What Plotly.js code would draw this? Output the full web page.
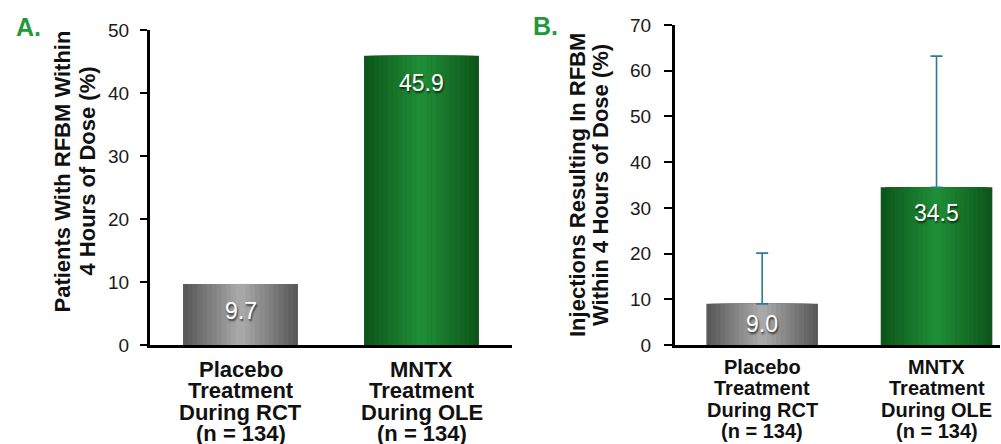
<!DOCTYPE html>
<html>
<head>
<meta charset="utf-8">
<script src="https://cdn.plot.ly/plotly-3.0.1.min.js"></script>
<style>
  html, body { margin: 0; padding: 0; background: #fff; }
  #chart { width: 1001px; height: 444px; }
</style>
</head>
<body>
<div id="chart"></div>
<script>
// ---- Data ----
const categoryLines = [
  ["Placebo", "Treatment", "During RCT", "(n = 134)"],
  ["MNTX", "Treatment", "During OLE", "(n = 134)"]
];
const categories = categoryLines.map(l => l.join(" "));
const patientsPct = [9.7, 45.9];          // Panel A
const injectionsPct = [9.0, 34.5];        // Panel B
const injectionsErrPlus = [11.1, 28.7];   // Panel B upper error
const valueLabelsA = ["9.7", "45.9"];
const valueLabelsB = ["9.0", "34.5"];
const yTicksA = [0, 10, 20, 30, 40, 50];
const yTicksB = [0, 10, 20, 30, 40, 50, 60, 70];
const yTitleA = ["Patients With RFBM Within", "4 Hours of Dose (%)"];
const yTitleB = ["Injections Resulting In RFBM", "Within 4 Hours of Dose (%)"];
const panelLabels = ["A.", "B."];

// ---- Helpers ----
const W = 1001, H = 444;
const px = x => x / W;
const py = y => 1 - y / H;
function hex2rgb(h) { h = h.replace('#',''); return [0,2,4].map(i => parseInt(h.substr(i,2),16)); }
function lerp(a, b, t) {
  const A = hex2rgb(a), B = hex2rgb(b);
  return 'rgb(' + A.map((v,i) => Math.round(v + (B[i]-v)*t)).join(',') + ')';
}
const barStyles = [
  { edge: '#595959', center: '#a8a8a8' },
  { edge: '#0d561b', center: '#1f8d35' }
];
const N = 12;
const traces = [];
function gradientBars(xa, ya, values, width, errPlus) {
  values.forEach((v, k) => {
    for (let i = 0; i < N; i++) {
      const t = i / (N - 1);
      const tr = {
        type: 'bar', x: [categories[k]], y: [v], xaxis: xa, yaxis: ya,
        width: width * (1 - i / N),
        marker: { color: lerp(barStyles[k].edge, barStyles[k].center, t), line: { width: 0 } },
        hoverinfo: 'skip', showlegend: false
      };
      if (errPlus && i === N - 1) {
        tr.error_y = { type: 'data', symmetric: false, array: [errPlus[k]], arrayminus: [0],
                       color: '#2b7b99', thickness: 1.6, width: 6 };
      }
      traces.push(tr);
    }
  });
}
gradientBars('x', 'y', patientsPct, 0.635, null);
gradientBars('x2', 'y2', injectionsPct, 0.64, injectionsErrPlus);

const tickFont = { family: 'Liberation Sans, Arial, sans-serif', size: 19, color: '#1a1a1a' };
const baseY = {
  showline: true, linewidth: 3, linecolor: '#000', showgrid: false, zeroline: false,
  ticks: 'outside', ticklen: 7, tickwidth: 2, tickcolor: '#000', tickfont: tickFont,
  ticklabelstandoff: 7, fixedrange: true
};
const baseX = {
  type: 'category', showline: true, linewidth: 3, linecolor: '#000', showgrid: false,
  zeroline: false, ticks: '', showticklabels: false, fixedrange: true
};

const annotations = [];
const boldFont = (s, c) => ({ family: 'Liberation Sans, Arial, sans-serif', size: s, color: c || '#111', weight: 'bold' });

// Category labels
function catLabels(xa, startY, step, size) {
  categoryLines.forEach((lines, k) => {
    lines.forEach((ln, j) => {
      annotations.push({ xref: xa, yref: 'paper', x: categories[k], y: py(startY + j * step),
        text: '<b>' + ln + '</b>', showarrow: false, xanchor: 'center', yanchor: 'middle',
        font: boldFont(size, '#111') });
    });
  });
}
catLabels('x', 369, 21.6, 22);
catLabels('x2', 367, 21.3, 20);

// Value labels
function valueLabels(xa, ya, values, labels, offsetUnits) {
  values.forEach((v, k) => {
    annotations.push({ xref: xa, yref: ya, x: categories[k], y: Math.max(v / 2, v - offsetUnits),
      text: labels[k], showarrow: false, xanchor: 'center', yanchor: 'middle',
      font: { family: 'Liberation Sans, Arial, sans-serif', size: 23, color: '#fff',
              shadow: '1px 2px 2px rgba(0,0,0,0.65)' } });
  });
}
valueLabels('x', 'y', patientsPct, valueLabelsA, 4.3);
valueLabels('x2', 'y2', injectionsPct, valueLabelsB, 5.7);

// Y-axis titles (rotated, two lines)
function yTitle(lines, xs, yc) {
  lines.forEach((ln, j) => {
    annotations.push({ xref: 'paper', yref: 'paper', x: px(xs[j]), y: py(yc), textangle: -90,
      text: '<b>' + ln + '</b>', showarrow: false, xanchor: 'center', yanchor: 'middle',
      font: boldFont(22, '#111') });
  });
}
yTitle(yTitleA, [62, 87], 171.5);
yTitle(yTitleB, [577, 600], 185);

// Panel labels
annotations.push({ xref: 'paper', yref: 'paper', x: px(28.5), y: py(27), text: '<b>' + panelLabels[0] + '</b>',
  showarrow: false, xanchor: 'center', yanchor: 'middle', font: boldFont(25, '#1f9a3a') });
annotations.push({ xref: 'paper', yref: 'paper', x: px(545), y: py(26), text: '<b>' + panelLabels[1] + '</b>',
  showarrow: false, xanchor: 'center', yanchor: 'middle', font: boldFont(25, '#1f9a3a') });

const layout = {
  width: W, height: H, margin: { l: 0, r: 0, t: 0, b: 0 },
  paper_bgcolor: '#fff', plot_bgcolor: 'rgba(0,0,0,0)',
  barmode: 'overlay', showlegend: false,
  xaxis: Object.assign({}, baseX, { domain: [px(150), px(512)], range: [-0.5, 1.5], anchor: 'y' }),
  yaxis: Object.assign({}, baseY, { domain: [py(345), py(30)], range: [0, 50], tickvals: yTicksA, anchor: 'x' }),
  xaxis2: Object.assign({}, baseX, { domain: [px(675), px(1000)], range: [-0.5, 1.364], anchor: 'y2' }),
  yaxis2: Object.assign({}, baseY, { domain: [py(345), py(25)], range: [0, 70], tickvals: yTicksB, anchor: 'x2', ticklen: 8, ticklabelstandoff: 9 }),
  annotations: annotations
};

Plotly.newPlot('chart', traces, layout, { staticPlot: true, displayModeBar: false });
</script>
</body>
</html>
